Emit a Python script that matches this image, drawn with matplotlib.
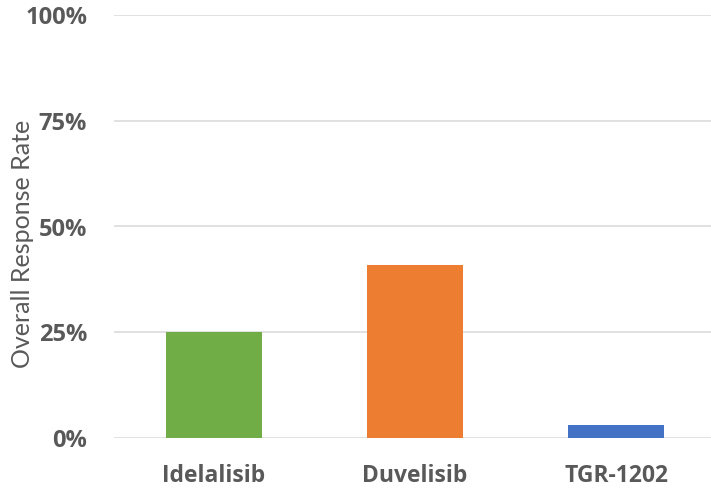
import matplotlib.pyplot as plt
from matplotlib.ticker import FuncFormatter

# response rates per drug, in percent
drugs = ["Idelalisib", "Duvelisib", "TGR-1202"]
response_rate = [25, 41, 3]
bar_colors = ["#70AD47", "#ED7D31", "#4472C4"]
y_ticks = [0, 25, 50, 75, 100]

text_color = "#595959"

fig = plt.figure(figsize=(7.11, 4.9), dpi=100)
ax = fig.add_axes([113.5 / 711, 52 / 490, 603 / 711, 423 / 490])

ax.bar(range(len(drugs)), response_rate, width=0.48, color=bar_colors, zorder=3)

ax.set_xlim(-0.5, len(drugs) - 0.5)
ax.set_ylim(0, 100)
ax.set_yticks(y_ticks)
ax.yaxis.set_major_formatter(FuncFormatter(lambda v, _: f"{v:.0f}%"))
ax.set_xticks(range(len(drugs)))
ax.set_xticklabels(drugs)

ax.grid(axis="y", color="#D9D9D9", linewidth=1.1, zorder=0)
for s in ax.spines.values():
    s.set_visible(False)
ax.tick_params(length=0)
ax.tick_params(axis="y", pad=19)
ax.tick_params(axis="x", pad=19)

for lab in ax.get_yticklabels():
    lab.set_fontfamily("Open Sans")
    lab.set_fontweight("bold")
    lab.set_fontsize(17)
    lab.set_color(text_color)
for lab in ax.get_xticklabels():
    lab.set_fontfamily("Open Sans")
    lab.set_fontweight("bold")
    lab.set_fontsize(16.5)
    lab.set_color(text_color)

ax.set_ylabel("Overall Response Rate", fontfamily="Lato", fontsize=18,
              color=text_color)
ax.yaxis.set_label_coords(-0.132, 0.459)

fig.savefig("out.png", dpi=100)
